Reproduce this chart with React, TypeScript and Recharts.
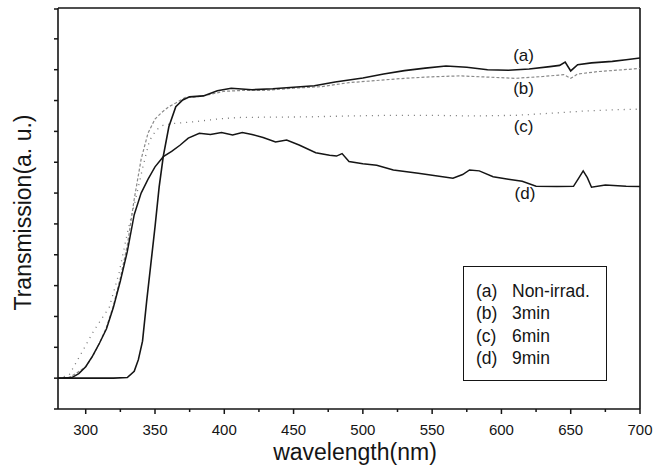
import { Line, LineChart, ReferenceDot, ReferenceLine, XAxis, YAxis, Label } from "recharts";

const FONT = "'Liberation Sans', Arial, Helvetica, sans-serif";
const INK = "#151515";

// (a) non-irradiated
const waveA = [280, 300, 320, 330, 335, 338, 341, 344, 347, 350, 353, 356, 360, 365, 370, 375, 385, 395, 405, 420, 435, 450, 465, 480, 500, 515, 530, 545, 560, 575, 590, 605, 620, 635, 642, 646, 650, 655, 665, 680, 690, 700];
const transA = [1.0, 1.0, 1.0, 1.02, 1.22, 1.6, 2.2, 3.5, 4.7, 5.9, 7.2, 8.2, 9.15, 9.8, 10.02, 10.12, 10.15, 10.32, 10.4, 10.35, 10.38, 10.43, 10.48, 10.6, 10.73, 10.86, 10.97, 11.05, 11.12, 11.08, 11.0, 10.98, 11.02, 11.1, 11.14, 11.25, 10.96, 11.16, 11.22, 11.27, 11.32, 11.38];

// (b) 3 min
const waveB = [280, 288, 293, 300, 305, 310, 315, 320, 325, 330, 335, 340, 345, 350, 355, 360, 365, 372, 380, 390, 400, 415, 430, 450, 470, 490, 510, 530, 550, 570, 590, 610, 630, 645, 650, 655, 670, 685, 700];
const transB = [1.0, 1.02, 1.15, 1.37, 1.7, 2.14, 2.65, 3.35, 4.25, 5.3, 6.8, 8.1, 8.95, 9.4, 9.62, 9.8, 9.92, 10.1, 10.12, 10.2, 10.3, 10.33, 10.33, 10.4, 10.45, 10.58, 10.65, 10.72, 10.77, 10.8, 10.76, 10.72, 10.78, 10.84, 10.72, 10.86, 10.94, 10.99, 11.04];

// (c) 6 min
const waveC = [280, 288, 293, 298, 306, 317, 324, 330, 336, 341, 346, 351, 356, 362, 370, 380, 395, 410, 430, 460, 490, 520, 550, 580, 610, 640, 660, 680, 700];
const transC = [1.0, 1.1, 1.5, 1.9, 2.55, 3.3, 4.4, 5.7, 6.8, 7.8, 8.7, 9.05, 9.2, 9.25, 9.28, 9.32, 9.4, 9.45, 9.46, 9.47, 9.5, 9.52, 9.52, 9.5, 9.52, 9.6, 9.66, 9.7, 9.72];

// (d) 9 min
const waveD = [280, 290, 295, 300, 305, 310, 315, 320, 325, 330, 335, 340, 345, 350, 356, 362, 368, 374, 382, 390, 398, 406, 413, 420, 428, 437, 445, 454, 466, 476, 481, 485, 490, 500, 510, 522, 540, 565, 572, 577, 584, 594, 605, 615, 625, 640, 652, 656, 659, 662, 665, 675, 690, 700];
const transD = [1.0, 1.02, 1.15, 1.37, 1.72, 2.14, 2.6, 3.3, 4.15, 5.1, 6.3, 7.0, 7.45, 7.85, 8.18, 8.35, 8.55, 8.78, 8.94, 8.9, 8.96, 8.88, 8.96, 8.9, 8.8, 8.66, 8.72, 8.56, 8.31, 8.23, 8.2, 8.28, 8.02, 7.95, 7.9, 7.75, 7.64, 7.48, 7.6, 7.75, 7.72, 7.53, 7.45, 7.38, 7.22, 7.21, 7.22, 7.5, 7.72, 7.5, 7.19, 7.26, 7.22, 7.21];

const xTicks = [300, 325, 350, 375, 400, 425, 450, 475, 500, 525, 550, 575, 600, 625, 650, 675, 700];
const yTicks = [0, 1, 2, 3, 4, 5, 6, 7, 8, 9, 10, 11, 12, 13];

const tagNames = ["(a)", "(b)", "(c)", "(d)"];
const tagWave = [616, 616, 616, 617];
const tagLevel = [11.47, 10.4, 9.17, 7.0];

const legendKeys = ["(a)", "(b)", "(c)", "(d)"];
const legendNames = ["Non-irrad.", "3min", "6min", "9min"];

const zip = (xs: number[], ys: number[]) => xs.map((nm, i) => ({ nm, t: ys[i] }));

function XTick(props: any) {
  const { x, y, payload } = props;
  const major = payload.value % 50 === 0;
  return (
    <g>
      <line x1={x} x2={x} y1={y} y2={y + (major ? 5 : 3)} stroke={INK} strokeWidth={1.5} />
      {major && (
        <text x={x} y={y + 26} textAnchor="middle" fontSize={15} fontFamily={FONT} fill={INK}>
          {payload.value}
        </text>
      )}
    </g>
  );
}

function YTick(props: any) {
  const { x, y } = props;
  return <line x1={x - 4} x2={x} y1={y} y2={y} stroke={INK} strokeWidth={1.5} />;
}

export default function App() {
  return (
    <div style={{ position: "absolute", left: 0, top: 0, width: 654, height: 465, background: "#fff" }}>
      <LineChart width={654} height={465} margin={{ top: 8, right: 14, bottom: 0, left: 0 }}>
        <XAxis
          dataKey="nm"
          type="number"
          domain={[280, 700]}
          allowDataOverflow
          ticks={xTicks}
          height={56}
          tickSize={0}
          tickMargin={0}
          tickLine={false}
          tick={<XTick />}
          axisLine={{ stroke: INK, strokeWidth: 1.6 }}
        >
          <Label
            content={({ viewBox }: any) => (
              <text
                x={viewBox.x + viewBox.width / 2 + 6}
                y={viewBox.y + 51}
                textAnchor="middle"
                fontSize={23}
                fontFamily={FONT}
                fill={INK}
              >
                wavelength(nm)
              </text>
            )}
          />
        </XAxis>
        <YAxis
          type="number"
          domain={[0, 13]}
          ticks={yTicks}
          width={58}
          tickSize={0}
          tickMargin={0}
          tickLine={false}
          tick={<YTick />}
          axisLine={{ stroke: INK, strokeWidth: 1.6 }}
        >
          <Label
            content={({ viewBox }: any) => (
              <text
                transform={`translate(${viewBox.x + 31}, ${viewBox.y + viewBox.height / 2 + 4}) rotate(-90)`}
                textAnchor="middle"
                fontSize={23}
                fontFamily={FONT}
                fill={INK}
              >
                Transmission(a. u.)
              </text>
            )}
          />
        </YAxis>
        <ReferenceLine y={13} stroke={INK} strokeWidth={1.6} />
        <ReferenceLine x={700} stroke={INK} strokeWidth={1.6} />
        <Line data={zip(waveC, transC)} dataKey="t" type="linear" stroke="#777" strokeWidth={1.3} strokeDasharray="1 5" dot={false} isAnimationActive={false} />
        <Line data={zip(waveB, transB)} dataKey="t" type="linear" stroke="#8a8a8a" strokeWidth={1.2} strokeDasharray="3 2" dot={false} isAnimationActive={false} />
        <Line data={zip(waveD, transD)} dataKey="t" type="linear" stroke={INK} strokeWidth={1.5} dot={false} isAnimationActive={false} />
        <Line data={zip(waveA, transA)} dataKey="t" type="linear" stroke={INK} strokeWidth={1.6} dot={false} isAnimationActive={false} />
        {tagNames.map((name, i) => (
          <ReferenceDot
            key={name}
            x={tagWave[i]}
            y={tagLevel[i]}
            r={0}
            fill="none"
            stroke="none"
            label={{ value: name, position: "center", fontSize: 17, fontFamily: FONT, fill: INK }}
          />
        ))}
      </LineChart>
      <div
        style={{
          position: "absolute",
          left: 463,
          top: 266,
          width: 144,
          height: 115,
          border: `1.4px solid ${INK}`,
          boxSizing: "border-box",
          fontFamily: FONT,
          fontSize: 17.5,
          color: INK,
          paddingTop: 13,
        }}
      >
        {legendKeys.map((k, i) => (
          <div key={k} style={{ position: "relative", height: 22.4, lineHeight: "22.4px" }}>
            <span style={{ position: "absolute", left: 12 }}>{k}</span>
            <span style={{ position: "absolute", left: 48 }}>{legendNames[i]}</span>
          </div>
        ))}
      </div>
    </div>
  );
}
